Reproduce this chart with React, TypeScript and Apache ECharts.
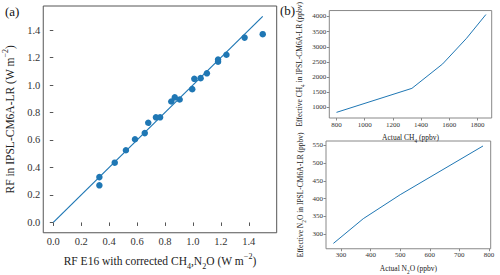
import React, { useEffect, useRef } from "react";
import * as echarts from "echarts";

// Panel (a): scatter RF E16 (x) vs RF IPSL (y)
const rfE16 = [0.33, 0.33, 0.44, 0.52, 0.585, 0.655, 0.68, 0.735, 0.765, 0.845, 0.87, 0.905, 0.995, 1.01, 1.055, 1.1, 1.18, 1.18, 1.24, 1.37, 1.5];
const rfIPSL = [0.27, 0.33, 0.435, 0.525, 0.605, 0.65, 0.725, 0.765, 0.765, 0.88, 0.91, 0.895, 0.97, 1.045, 1.05, 1.085, 1.17, 1.185, 1.22, 1.345, 1.37];
const oneToOneX = [0, 1.5];
const oneToOneY = [0, 1.5];
const ticksA = [0, 0.2, 0.4, 0.6, 0.8, 1.0, 1.2, 1.4];

// Panel (b) top: CH4
const actualCH4 = [800, 1335, 1553, 1723, 1860];
const effectiveCH4 = [837, 1629, 2435, 3283, 4065];
const ticksCH4x = [800, 1000, 1200, 1400, 1600, 1800];
const ticksCH4y = [1000, 1500, 2000, 2500, 3000, 3500, 4000];

// Panel (b) bottom: N2O
const actualN2O = [274, 375, 500, 780];
const effectiveN2O = [274, 343.5, 411, 548];
const ticksN2Ox = [300, 400, 500, 600, 700, 800];
const ticksN2Oy = [300, 350, 400, 450, 500, 550];

const BLUE = "#1f77b4";
const SERIF = "'Liberation Serif', 'DejaVu Serif', serif";

function richName(fs: number) {
  return {
    fontFamily: SERIF,
    fontSize: fs,
    color: "#222",
    rich: {
      n: { fontFamily: SERIF, fontSize: fs, color: "#222", lineHeight: fs * 1.5 },
      sub: { fontFamily: SERIF, fontSize: fs * 0.7, color: "#222", lineHeight: fs * 0.75, verticalAlign: "bottom" as const },
      sup: { fontFamily: SERIF, fontSize: fs * 0.7, color: "#222", lineHeight: fs * 0.75, verticalAlign: "top" as const },
    },
  };
}

function axis(opts: {
  gridIndex: number;
  min: number;
  max: number;
  ticks: number[];
  fs: number;
  fmt?: (v: number) => string;
  name?: string;
  nameGap?: number;
  nameFs: number;
  frame: string;
  tickLen: number;
  labelMargin: number;
}) {
  return {
    type: "value" as const,
    gridIndex: opts.gridIndex,
    min: opts.min,
    max: opts.max,
    name: opts.name,
    nameLocation: "middle" as const,
    nameGap: opts.nameGap,
    nameTextStyle: richName(opts.nameFs),
    axisLine: { show: false },
    splitLine: { show: false },
    axisTick: {
      show: true,
      customValues: opts.ticks,
      length: opts.tickLen,
      lineStyle: { color: opts.frame, width: 1 },
    },
    axisLabel: {
      show: true,
      customValues: opts.ticks,
      formatter: opts.fmt ? (v: number) => opts.fmt!(v) : (v: number) => String(v),
      fontFamily: SERIF,
      fontSize: opts.fs,
      color: "#333",
      margin: opts.labelMargin,
    },
  };
}

export default function App() {
  const ref = useRef<HTMLDivElement>(null);
  useEffect(() => {
    if (!ref.current) return;
    const chart = echarts.init(ref.current, null, { renderer: "svg" });
    const frameA = "#555";
    const frameB = "#888";
    chart.setOption({
      animation: false,
      backgroundColor: "#ffffff",
      grid: [
        { left: 42.7, top: 6, width: 234, height: 232, show: true, borderColor: frameA, borderWidth: 1, containLabel: false },
        { left: 329.3, top: 9.3, width: 162.4, height: 108.7, show: true, borderColor: frameB, borderWidth: 1, containLabel: false },
        { left: 326, top: 141, width: 164.7, height: 109, show: true, borderColor: frameB, borderWidth: 1, containLabel: false },
      ],
      xAxis: [
        axis({ gridIndex: 0, min: -0.072, max: 1.6, ticks: ticksA, fs: 10.5, fmt: (v) => v.toFixed(1),
          name: "{n|RF E16 with corrected CH}{sub|4}{n|,N}{sub|2}{n|O (W m}{sup|−2}{n|)}", nameGap: 20, nameFs: 11.5,
          frame: frameA, tickLen: 3.5, labelMargin: 3 }),
        axis({ gridIndex: 1, min: 749, max: 1901, ticks: ticksCH4x, fs: 7, name: "{n|Actual CH}{sub|4}{n| (ppbv)}",
          nameGap: 14, nameFs: 7.5, frame: frameB, tickLen: 2.5, labelMargin: 3 }),
        axis({ gridIndex: 2, min: 249, max: 806, ticks: ticksN2Ox, fs: 7, name: "{n|Actual N}{sub|2}{n|O (ppbv)}",
          nameGap: 14, nameFs: 7.5, frame: frameB, tickLen: 2.5, labelMargin: 3 }),
      ],
      yAxis: [
        axis({ gridIndex: 0, min: -0.075, max: 1.575, ticks: ticksA, fs: 10.5, fmt: (v) => v.toFixed(1),
          name: "{n|RF in IPSL-CM6A-LR (W m}{sup|−2}{n|)}", nameGap: 25, nameFs: 11.5,
          frame: frameA, tickLen: 3.5, labelMargin: 3 }),
        axis({ gridIndex: 1, min: 651, max: 4196, ticks: ticksCH4y, fs: 7, name: "{n|Effective CH}{sub|4}{n| in IPSL-CM6A-LR (ppbv)}",
          nameGap: 24, nameFs: 7.5, frame: frameB, tickLen: 2.5, labelMargin: 3 }),
        axis({ gridIndex: 2, min: 259, max: 562, ticks: ticksN2Oy, fs: 7, name: "{n|Effective N}{sub|2}{n|O in IPSL-CM6A-LR (ppbv)}",
          nameGap: 20, nameFs: 7.5, frame: frameB, tickLen: 2.5, labelMargin: 3 }),
      ],
      series: [
        {
          type: "line",
          xAxisIndex: 0,
          yAxisIndex: 0,
          data: oneToOneX.map((x, i) => [x, oneToOneY[i]]),
          showSymbol: false,
          symbol: "none",
          lineStyle: { color: BLUE, width: 1.2 },
          z: 2,
        },
        {
          type: "scatter",
          xAxisIndex: 0,
          yAxisIndex: 0,
          data: rfE16.map((x, i) => [x, rfIPSL[i]]),
          symbolSize: 6.5,
          itemStyle: { color: BLUE, opacity: 1 },
          z: 3,
        },
        {
          type: "line",
          xAxisIndex: 1,
          yAxisIndex: 1,
          data: actualCH4.map((x, i) => [x, effectiveCH4[i]]),
          showSymbol: false,
          symbol: "none",
          lineStyle: { color: BLUE, width: 1 },
        },
        {
          type: "line",
          xAxisIndex: 2,
          yAxisIndex: 2,
          data: actualN2O.map((x, i) => [x, effectiveN2O[i]]),
          showSymbol: false,
          symbol: "none",
          lineStyle: { color: BLUE, width: 1 },
        },
      ],
      graphic: [
        { type: "text", left: 5, top: 5, style: { text: "(a)", fontFamily: SERIF, fontSize: 13, fill: "#111" } },
        { type: "text", left: 280, top: 4, style: { text: "(b)", fontFamily: SERIF, fontSize: 13, fill: "#111" } },
      ],
    });
    return () => chart.dispose();
  }, []);
  return <div ref={ref} style={{ width: 500, height: 275, position: "absolute", left: 0, top: 0 }} />;
}
